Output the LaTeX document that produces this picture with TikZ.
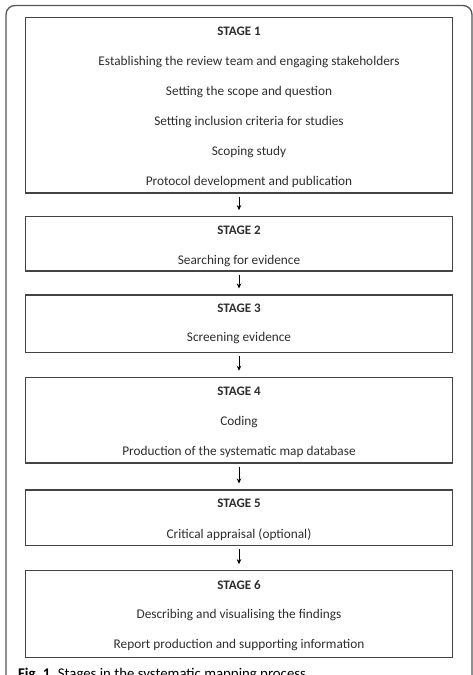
\documentclass[tikz,border=0pt]{standalone}
\usepackage{fontspec}
\setmainfont{Carlito}
\usetikzlibrary{arrows.meta}
\definecolor{txt}{HTML}{2E2E2E}
\definecolor{frame}{HTML}{555555}
\definecolor{boxline}{HTML}{444444}
\begin{document}
\begin{tikzpicture}[x=1pt,y=-1pt,
  stagebox/.style={draw=boxline,line width=1.1pt,minimum width=427pt,inner sep=0pt,rectangle},
  lbl/.style={anchor=base,text=txt,font=\fontsize{13.3}{15}\selectfont,inner sep=0pt},
  head/.style={lbl,font=\fontsize{13}{15}\selectfont\bfseries},
  arr/.style={draw=black,line width=0.8pt,-{Stealth[length=5pt,width=4.5pt]},shorten <=3pt,shorten >=6pt}]
\useasboundingbox (0,0) rectangle (473,675);
\clip (0,0) rectangle (473,675);
\draw[frame,line width=1.3pt,rounded corners=9pt] (6,5.5) rectangle (472,720);
% boxes
\node[stagebox,minimum height=175.3pt] (s1) at (239,105.35) {};
\node[stagebox,minimum height=54.3pt] (s2) at (239,243.85) {};
\node[stagebox,minimum height=57.7pt] (s3) at (239,323.85) {};
\node[stagebox,minimum height=85.7pt] (s4) at (239,420.15) {};
\node[stagebox,minimum height=55.7pt] (s5) at (239,517.85) {};
\node[stagebox,minimum height=86.6pt] (s6) at (239,614) {};
% texts
\node[head] (h1) at (239,35.8) {STAGE 1};
\node[lbl] (t11) at (249,65.3) {Establishing the review team and engaging stakeholders};
\node[lbl] (t12) at (249,95.3) {Setting the scope and question};
\node[lbl] (t13) at (249,125.3) {Setting inclusion criteria for studies};
\node[lbl] (t14) at (249,155.8) {Scoping study};
\node[lbl] (t15) at (249,185.8) {Protocol development and publication};
\node[head] (h2) at (239,234.2) {STAGE 2};
\node[lbl] (t21) at (239,264.3) {Searching for evidence};
\node[head] (h3) at (239,312.4) {STAGE 3};
\node[lbl] (t31) at (239,341.8) {Screening evidence};
\node[head] (h4) at (239,395.2) {STAGE 4};
\node[lbl] (t41) at (239,425.8) {Coding};
\node[lbl] (t42) at (239,455.3) {Production of the systematic map database};
\node[head] (h5) at (239,507.4) {STAGE 5};
\node[lbl] (t51) at (239,538.3) {Critical appraisal (optional)};
\node[head] (h6) at (239,589.2) {STAGE 6};
\node[lbl] (t61) at (239,618.3) {Describing and visualising the findings};
\node[lbl] (t62) at (239,648.3) {Report production and supporting information};
% arrows
\draw[arr] (s1.south) -- (s2.north);
\draw[arr] (s2.south) -- (s3.north);
\draw[arr] (s3.south) -- (s4.north);
\draw[arr] (s4.south) -- (s5.north);
\draw[arr] (s5.south) -- (s6.north);
% caption
\node[anchor=base west,inner sep=0pt,text=black,font=\fontsize{14.8}{16}\selectfont] (cap) at (18,678.5) {\textbf{Fig.~1}\enspace Stages in the systematic mapping process};
\end{tikzpicture}
\end{document}
